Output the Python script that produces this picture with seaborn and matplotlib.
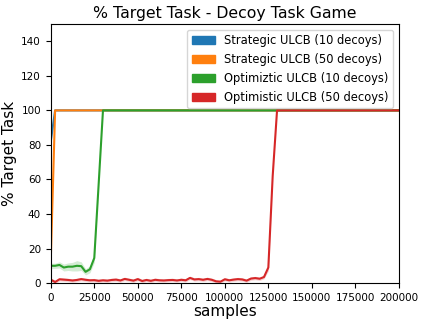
import numpy as np
import pandas as pd
import matplotlib
matplotlib.use('Agg')
import matplotlib.pyplot as plt
from matplotlib.patches import Patch
import seaborn as sns

# samples grid (every 2500 samples)
samples = np.arange(0, 200001, 2500)
n = len(samples)

labels = ['Strategic ULCB (10 decoys)', 'Strategic ULCB (50 decoys)',
          'Optimiztic ULCB (10 decoys)', 'Optimistic ULCB (50 decoys)']
colors = ['#1f77b4', '#ff7f0e', '#2ca02c', '#d62728']

strategic_10 = [82] + [100] * (n - 1)
strategic_50 = [13] + [100] * (n - 1)
optimistic_10 = [10, 10, 10.5, 9, 9.5, 9.5, 10, 9.8, 6.5, 8, 14.5, 57] + [100] * (n - 12)
optimistic_50 = [2.0, 0.6, 2.2, 2.0, 1.8, 1.5, 1.8, 2.3, 1.9, 1.6,
                 1.7, 1.3, 1.6, 1.4, 1.8, 2.0, 1.5, 2.4, 1.9, 1.4,
                 2.3, 1.2, 1.8, 1.3, 1.9, 1.6, 1.5, 1.7, 1.8, 1.5,
                 1.9, 1.6, 3.0, 2.1, 2.3, 1.9, 2.4, 1.9, 1.0, 0.8,
                 2.2, 1.6, 2.0, 2.3, 2.1, 1.4, 2.6, 2.9, 2.5, 3.5,
                 9.0, 62] + [100] * (n - 52)

# half-width of the shaded band
band_opt_10 = [1.5, 1.5, 1.8, 2.0, 2.2, 2.5, 3.0, 2.5, 1.8, 2.0, 2.5, 0] + [0] * (n - 12)
band_opt_50 = [1.0] * 50 + [2.0, 0] + [0] * (n - 52)

series = [strategic_10, strategic_50, optimistic_10, optimistic_50]
bands = [None, None, band_opt_10, band_opt_50]

df = pd.concat([pd.DataFrame({'samples': samples, 'pct': vals, 'method': lab})
                for lab, vals in zip(labels, series)])

fig = plt.figure(figsize=(4.23, 3.25), dpi=100)
ax = fig.add_axes([0.12, 0.129, 0.823, 0.797])

for lab, vals, band, c in zip(labels, series, bands, colors):
    if band is not None:
        v = np.array(vals, dtype=float)
        b = np.array(band, dtype=float)
        ax.fill_between(samples, v - b, v + b, color=c, alpha=0.2, linewidth=0)

sns.lineplot(data=df, x='samples', y='pct', hue='method', palette=colors,
             linewidth=1.5, legend=False, ax=ax)

ax.set_xlim(0, 200000)
ax.set_ylim(0, 150)
ax.set_yticks(range(0, 141, 20))
ax.tick_params(labelsize=7.5)
ax.set_xlabel('samples', fontsize=11, labelpad=1)
ax.set_ylabel('% Target Task', fontsize=11, labelpad=3)
ax.set_title('% Target Task - Decoy Task Game', fontsize=11.3, pad=4)

handles = [Patch(color=c, label=l) for c, l in zip(colors, labels)]
ax.legend(handles=handles, loc='upper right', fontsize=8.3)

fig.savefig('out.png', dpi=100)
